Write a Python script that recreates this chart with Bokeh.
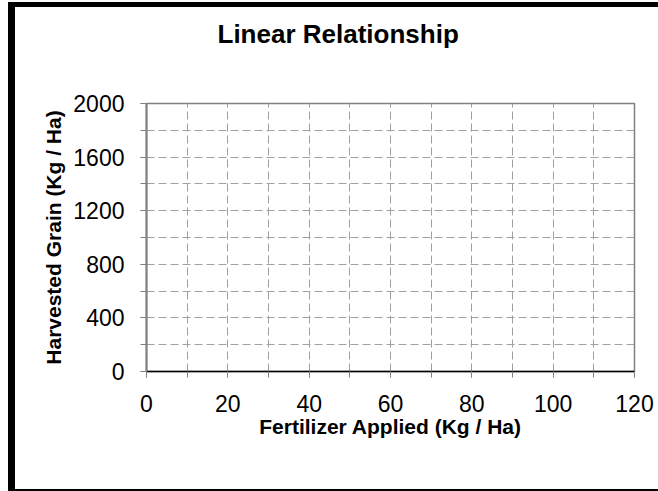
from bokeh.plotting import figure
from bokeh.models import FixedTicker, Range1d, LinearAxis
from bokeh.embed import file_html
from bokeh.resources import INLINE

# ---- data (the reference chart has no plotted points) ----
fertilizer = []          # Kg / Ha
grain = []               # Kg / Ha
x_ticks = [0, 20, 40, 60, 80, 100, 120]
x_minor = [0, 10, 20, 30, 40, 50, 60, 70, 80, 90, 100, 110, 120]
y_ticks = [0, 400, 800, 1200, 1600, 2000]
y_minor = [0, 200, 400, 600, 800, 1000, 1200, 1400, 1600, 1800, 2000]
x_grid = [10, 20, 30, 40, 50, 60, 70, 80, 90, 100, 110]
y_grid = [200, 400, 600, 800, 1000, 1200, 1400, 1600, 1800]
title_text = "Linear Relationship"

FONT = "Liberation Sans"

p = figure(width=643, height=482, output_backend="svg", toolbar_location=None,
           title=title_text,
           x_range=Range1d(0, 120), y_range=Range1d(0, 2000),
           min_border_left=131, min_border_right=31,
           min_border_top=96, min_border_bottom=125,
           background_fill_color="white", border_fill_color="white",
           styles={"box-sizing": "content-box",
                   "border-left": "7px solid black", "border-top": "5px solid black",
                   "border-bottom": "2px solid black",
                   "position": "absolute", "left": "8px", "top": "2px"})

p.scatter(fertilizer, grain, size=6, color="black")

# title: left-aligned with an offset so it is centred on the whole chart area
p.title.align = "left"
p.title.offset = 71
p.title.standoff = 6
p.title.text_font = FONT
p.title.text_font_size = "26px"
p.title.text_font_style = "bold"
p.title.text_color = "black"

p.outline_line_color = "#808080"
p.outline_line_width = 1.5

xax = p.below[0]
yax = p.left[0]
for ax, ticks, minor in ((xax, x_ticks, x_minor), (yax, y_ticks, y_minor)):
    ax.ticker = FixedTicker(ticks=ticks, minor_ticks=minor)
    ax.major_label_text_font = FONT
    ax.major_label_text_font_size = "23px"
    ax.major_label_text_color = "black"
    ax.axis_label_text_font = FONT
    ax.axis_label_text_font_size = "21px"
    ax.axis_label_text_font_style = "bold"
    ax.axis_label_text_color = "black"
    ax.major_tick_in = 0
    ax.major_tick_out = 6
    ax.minor_tick_in = 0
    ax.minor_tick_out = 6
    ax.major_tick_line_color = "#808080"
    ax.minor_tick_line_color = "#808080"

xax.axis_label = "Fertilizer Applied (Kg / Ha)"
yax.axis_label = "Harvested Grain (Kg / Ha)"
xax.axis_line_color = "black"
xax.axis_line_width = 1.5
yax.axis_line_color = "#808080"
yax.axis_line_width = 2
xax.major_label_standoff = 17
yax.major_label_standoff = 16
xax.axis_label_standoff = 0
yax.axis_label_standoff = 5

# invisible spacer between title and plot area (hidden tick, hidden label)
spacer = LinearAxis(ticker=FixedTicker(ticks=[0], minor_ticks=[]), major_tick_out=52,
                    major_tick_in=0, minor_tick_out=0, minor_tick_in=0,
                    major_label_standoff=0, major_label_text_font_size="1px",
                    major_label_text_alpha=0, axis_line_color=None,
                    major_tick_line_color=None, minor_tick_line_color=None)
p.add_layout(spacer, "above")

p.xgrid.ticker = FixedTicker(ticks=x_grid)
p.ygrid.ticker = FixedTicker(ticks=y_grid)
for g in (p.xgrid[0], p.ygrid[0]):
    g.grid_line_color = "#a0a0a0"
    g.grid_line_width = 1
    g.grid_line_dash = "8 4"

open("out.html", "w").write(file_html(p, INLINE))
